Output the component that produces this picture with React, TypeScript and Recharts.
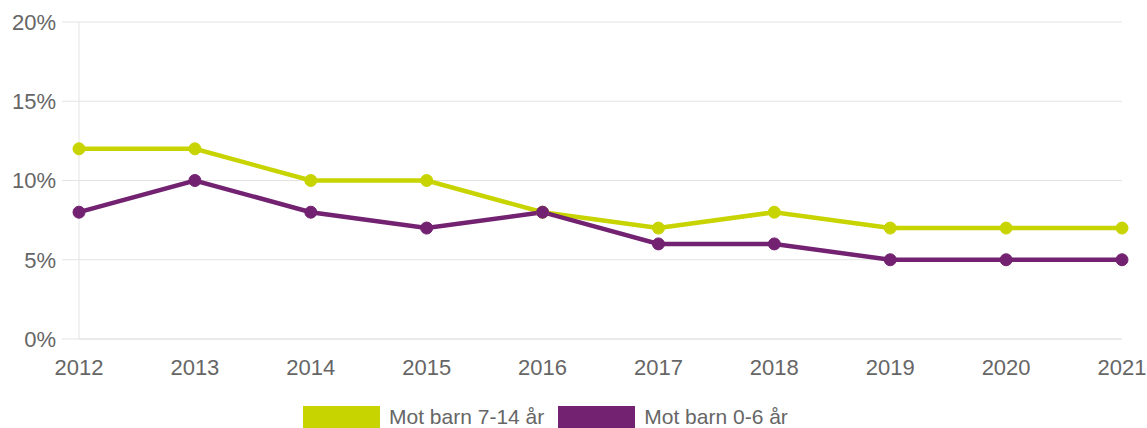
import { LineChart, Line, XAxis, YAxis, CartesianGrid, Legend } from "recharts";

const YEARS = ["2012", "2013", "2014", "2015", "2016", "2017", "2018", "2019", "2020", "2021"];
const OLDER = [12, 12, 10, 10, 8, 7, 8, 7, 7, 7]; // Mot barn 7-14 år
const YOUNGER = [8, 10, 8, 7, 8, 6, 6, 5, 5, 5]; // Mot barn 0-6 år
const Y_TICKS = [0, 5, 10, 15, 20];

const GREEN = "#c8d400";
const PURPLE = "#722270";
const FONT = "'Liberation Sans', Arial, sans-serif";

const data = YEARS.map((year, i) => ({ year, older: OLDER[i], younger: YOUNGER[i] }));

const LegendBox = () => (
  <div style={{ display: "flex", justifyContent: "flex-start", alignItems: "center", gap: 14, paddingTop: 16, paddingLeft: 303, fontFamily: FONT, fontSize: 21, color: "#666" }}>
    {[
      { label: "Mot barn 7-14 år", color: GREEN },
      { label: "Mot barn 0-6 år", color: PURPLE },
    ].map((item) => (
      <div key={item.label} style={{ display: "flex", alignItems: "center", gap: 9 }}>
        <span style={{ display: "inline-block", width: 77, height: 23, background: item.color }} />
        <span>{item.label}</span>
      </div>
    ))}
  </div>
);

export default function App() {
  return (
    <div style={{ position: "absolute", left: 0, top: 0, width: 1147, height: 428, background: "#fff", overflow: "hidden" }}>
      <LineChart width={1147} height={428} data={data} margin={{ top: 22, right: 25, bottom: 0, left: 0 }}>
        <CartesianGrid stroke="#e3e3e3" vertical={false} />
        <XAxis
          dataKey="year"
          axisLine={{ stroke: "#e3e3e3" }}
          tickLine={false}
          tickSize={6}
          tickMargin={14}
          height={50}
          interval={0}
          tick={{ fill: "#666", fontSize: 22, fontFamily: FONT }}
        />
        <YAxis
          domain={[0, 20]}
          ticks={Y_TICKS}
          tickFormatter={(v) => `${v}%`}
          width={79}
          axisLine={{ stroke: "#e3e3e3" }}
          tickLine={{ stroke: "#e3e3e3" }}
          tickSize={17}
          tickMargin={6}
          tick={{ fill: "#666", fontSize: 22, fontFamily: FONT }}
        />
        <Legend verticalAlign="bottom" height={39} content={() => <LegendBox />} />
        <Line
          dataKey="older"
          name="Mot barn 7-14 år"
          stroke={GREEN}
          strokeWidth={4.5}
          dot={{ r: 6, fill: GREEN, stroke: GREEN, strokeWidth: 1 }}
          activeDot={false}
          isAnimationActive={false}
        />
        <Line
          dataKey="younger"
          name="Mot barn 0-6 år"
          stroke={PURPLE}
          strokeWidth={4.5}
          dot={{ r: 6, fill: PURPLE, stroke: PURPLE, strokeWidth: 1 }}
          activeDot={false}
          isAnimationActive={false}
        />
      </LineChart>
    </div>
  );
}
